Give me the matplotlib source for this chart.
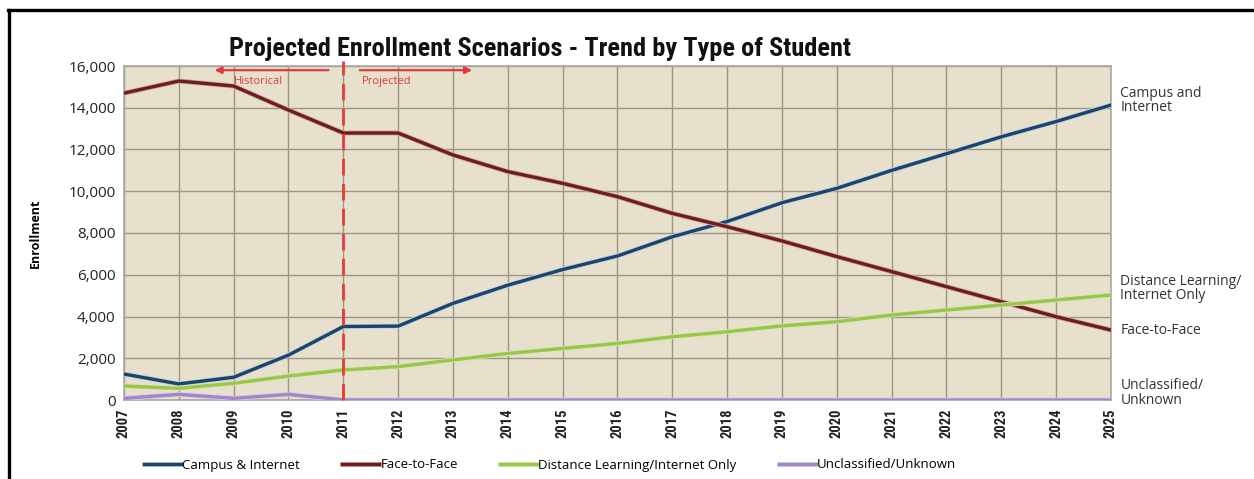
import matplotlib
matplotlib.use("Agg")
import matplotlib.pyplot as plt
import matplotlib.patheffects as pe
from matplotlib import font_manager
from matplotlib.lines import Line2D

# ===== данные =====
years = list(range(2007, 2026))

campus_internet = [1245, 770, 1090, 2150, 3520, 3540, 4630, 5500, 6250, 6900,
                   7820, 8550, 9450, 10140, 11000, 11800, 12610, 13340, 14130]
face_to_face = [14700, 15280, 15040, 13890, 12790, 12790, 11740, 10940, 10380, 9740,
                8940, 8300, 7620, 6870, 6150, 5430, 4710, 3990, 3350]
distance_only = [670, 560, 800, 1150, 1440, 1600, 1920, 2230, 2470, 2710,
                 3030, 3270, 3550, 3750, 4070, 4310, 4550, 4790, 5030]
unclassified = [80, 270, 80, 270, 0, 0, 0, 0, 0, 0,
                0, 0, 0, 0, 0, 0, 0, 0, 0]

series_names = ["Campus & Internet", "Face-to-Face",
                "Distance Learning/Internet Only", "Unclassified/Unknown"]
end_labels = ["Campus and\nInternet", "Face-to-Face",
              "Distance Learning/\nInternet Only", "Unclassified/\nUnknown"]
end_label_y = [14350, 3350, 5350, 330]

# ===== шрифты =====
available = {f.name for f in font_manager.fontManager.ttflist}
title_font = "DejaVu Sans"
for name in ["Liberation Sans Narrow", "DejaVu Sans Condensed", "Roboto Condensed"]:
    if name in available:
        title_font = name
        break
body_font = "Open Sans" if "Open Sans" in available else "DejaVu Sans"
plt.rcParams["font.family"] = [body_font, "DejaVu Sans"]

# ===== рисунок =====
fig = plt.figure(figsize=(12.54, 4.79), dpi=100)
ax = fig.add_axes([124 / 1254, 1 - 400 / 479, (1111 - 124) / 1254, (400 - 66) / 479])
ax.set_facecolor("#e6e0cd")

colors = ["#1d4468", "#6a1f1f", "#9cc54e", "#a386c4"]
halos = ["#b9d2e6", "#d9a0a0", "#d6e8b0", "#d8cbe6"]
data = [campus_internet, face_to_face, distance_only, unclassified]

for vals, c, h, name in zip(data, colors, halos, series_names):
    ax.plot(years, vals, color=c, lw=2.4, label=name, zorder=3,
            path_effects=[pe.Stroke(linewidth=3.6, foreground=h), pe.Normal()])

ax.set_xlim(2007, 2025)
ax.set_ylim(0, 16000)
ax.set_xticks(years)
ax.set_xticklabels([str(y) for y in years], rotation=90, fontsize=10.5,
                   fontweight="bold", color="#222222",
                   family=[title_font, "DejaVu Sans"])
ax.set_yticks(range(0, 16001, 2000))
ax.set_yticklabels([f"{v:,}" for v in range(0, 16001, 2000)], fontsize=11,
                   color="#222222")
ax.tick_params(length=0, pad=6)
ax.grid(True, color="#9d9685", lw=1)
ax.set_axisbelow(True)
for s in ax.spines.values():
    s.set_color("#a8a8a8")
    s.set_linewidth(1.2)

# вертикальная линия исторические / прогноз
ax.plot([2011, 2011], [0, 16250], color="#e8393b", lw=2, ls=(0, (6, 3)),
        clip_on=False, zorder=4)
ax.annotate("", xy=(2008.6, 15800), xytext=(2010.78, 15800),
            arrowprops=dict(arrowstyle="-|>", color="#e03a3a", lw=1.6,
                            mutation_scale=10), annotation_clip=False)
ax.annotate("", xy=(2013.4, 15800), xytext=(2011.25, 15800),
            arrowprops=dict(arrowstyle="-|>", color="#e03a3a", lw=1.6,
                            mutation_scale=10), annotation_clip=False)
ax.text(2009.0, 15250, "Historical", color="#e03a3a", fontsize=8, va="center")
ax.text(2011.33, 15250, "Projected", color="#e03a3a", fontsize=8, va="center")

# подписи справа
for txt, yv in zip(end_labels, end_label_y):
    ax.text(2025.17, yv, txt, fontsize=10, color="#333333", va="center",
            ha="left", linespacing=0.95, clip_on=False)

fig.text(540 / 1254, 1 - 49 / 479,
         "Projected Enrollment Scenarios - Trend by Type of Student",
         fontsize=19, fontweight="bold", family=[title_font, "DejaVu Sans"],
         ha="center", va="center", color="#111111")
fig.text(35 / 1254, 1 - 233 / 479, "Enrollment", rotation=90, fontsize=9,
         fontweight="bold", ha="center", va="center")

fig.legend(loc="center", bbox_to_anchor=(550 / 1254, 14 / 479), ncol=4,
           frameon=False, fontsize=9.5, handlelength=2.8, handletextpad=0.1,
           columnspacing=3.2)

# рамка
fig.add_artist(Line2D([8 / 1254, 1], [1 - 10 / 479, 1 - 10 / 479], color="black",
                      lw=2.4, transform=fig.transFigure))
fig.add_artist(Line2D([9 / 1254, 9 / 1254], [0, 1 - 10 / 479], color="black",
                      lw=2.4, transform=fig.transFigure))

fig.savefig("out.png", dpi=100)
